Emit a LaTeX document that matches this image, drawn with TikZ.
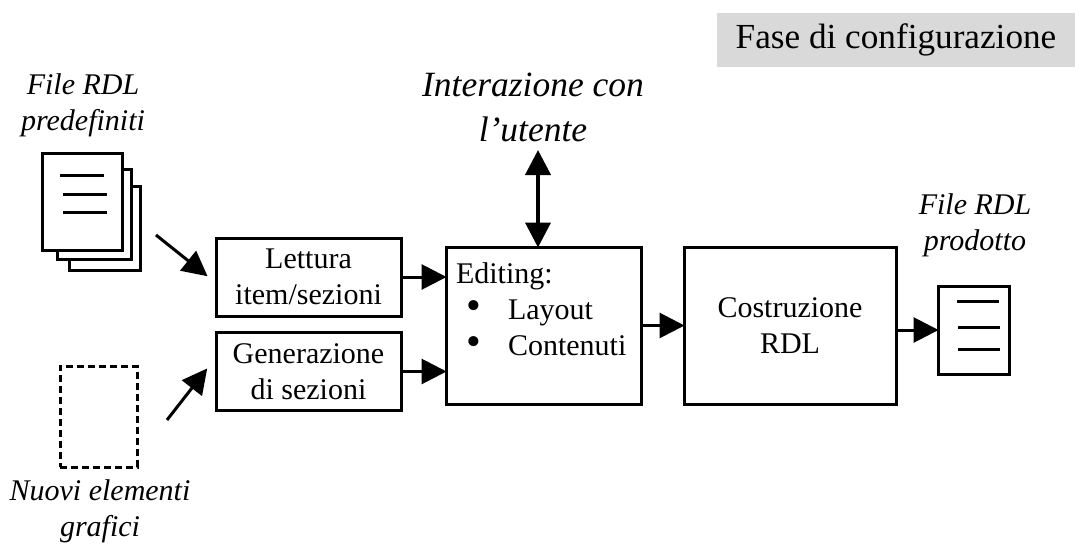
\documentclass[tikz,border=0pt]{standalone}
\usepackage{fontspec}
\setmainfont{Liberation Serif}
\usetikzlibrary{arrows.meta}

\begin{document}
\begin{tikzpicture}[x=1pt,y=-1pt,line width=3pt,>={Triangle[length=25pt,width=25pt]},shorten >=-2pt]
    \tikzset{block/.style={draw, align=center, inner sep=0pt, font=\fontsize{30}{36}\selectfont}}
    \tikzset{caption/.style={align=center, inner sep=0pt, font=\fontsize{30}{36}\selectfont\itshape}}
    \tikzset{page/.style={draw, fill=white}}
    \newcommand{\bigbullet}{\hspace*{17pt}\makebox[12pt]{\fontsize{42}{36}\selectfont\textbullet}\hspace{28pt}}
    \useasboundingbox (0,0) rectangle (1075,551);
    \node[fill=black!15, minimum width=358pt, minimum height=54pt, inner sep=0pt, font=\fontsize{35.2}{40}\selectfont] (F) at (896,40) {Fase di configurazione};
    \node[caption] (P) at (83,105) {File RDL\\predefiniti};
    \node[caption, font=\fontsize{35.5}{45}\selectfont\itshape] (U) at (533,107) {Interazione con\\l'utente};
    \node[caption] (O) at (975,225) {File RDL\\prodotto};
    \node[caption] (N) at (100,511) {Nuovi elementi\\grafici};
    \node[block, minimum width=185pt, minimum height=78pt] (L) at (308.5,277) {Lettura\\item/sezioni};
    \node[block, minimum width=185pt, minimum height=78pt] (G) at (308.5,371.5) {Generazione\\di sezioni};
    \node[block, minimum width=195pt, minimum height=157pt, align=left, text width=185pt] (E) at (543.5,325.5) {\hspace*{5pt}Editing:\\\bigbullet Layout\\\bigbullet Contenuti\\[-4pt]~};
    \node[block, minimum width=212pt, minimum height=157pt] (C) at (790,325.5) {Costruzione\\RDL};
    % pile of files
    \node[page, minimum width=71pt, minimum height=84pt] (D3) at (104.5,228) {};
    \node[page, minimum width=74pt, minimum height=90pt] (D2) at (94,214) {};
    \node[page, minimum width=80pt, minimum height=97pt] (D1) at (82,201.5) {};
    \draw (60,175.5) -- (102,175.5);
    \draw (63,194) -- (105,194);
    \draw (63,212) -- (105,212);
    \node[draw, dash pattern=on 7pt off 4pt, minimum width=77pt, minimum height=101pt] (D) at (98.5,416.5) {};
    \node[draw, minimum width=71pt, minimum height=88pt] (R) at (973.5,330) {};
    \draw (957,301) -- (997,301);
    \draw (958,327) -- (998,327);
    \draw (958,349) -- (998,349);
    % free ends
    \coordinate (A1) at (156,235);
    \coordinate (A2) at (206,275);
    \coordinate (B1) at (167,420);
    \coordinate (B2) at (206,370);
    \coordinate (T) at (538,152);
    \draw[->] (A1) -- (A2);
    \draw[->] (B1) -- (B2);
    \draw[->] (L.east) -- (L.east -| E.west);
    \draw[->] (G.east) -- (G.east -| E.west);
    \draw[->] (E.east) -- (C.west);
    \draw[->] (R.west -| C.east) -- (R.west);
    \draw[<->, line width=4pt, shorten <=-2pt] (T) -- (T |- E.north);
\end{tikzpicture}
\end{document}
